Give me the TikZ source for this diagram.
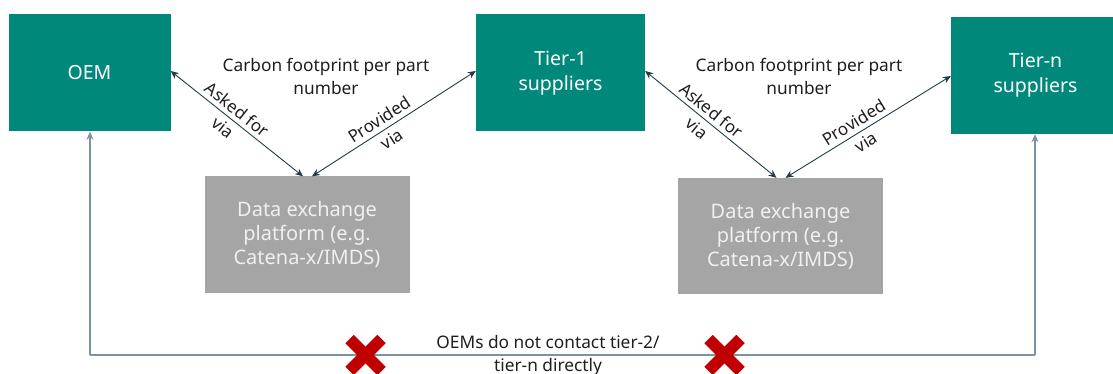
\documentclass[tikz,border=0pt]{standalone}
\usepackage{fontspec}
\setmainfont{Noto Sans}
\usetikzlibrary{arrows.meta}
\definecolor{tealbox}{RGB}{0,137,123}
\definecolor{greybox}{RGB}{165,165,165}
\definecolor{darkline}{RGB}{35,60,72}
\definecolor{bottomline}{RGB}{125,148,160}
\definecolor{crossred}{RGB}{192,0,0}
\definecolor{txt}{RGB}{30,30,30}
\tikzset{
  party/.style={fill=tealbox, text=white, inner sep=0pt, minimum width=162pt,
    minimum height=117pt, align=center, font=\fontsize{19.5}{25}\selectfont},
  platform/.style={fill=greybox, text=white!94!black, inner sep=0pt, minimum width=205pt,
    minimum height=116pt, align=center, font=\fontsize{20}{24}\selectfont},
  flow/.style={draw=darkline, line width=0.9pt, {Stealth[length=8pt,width=7pt]}-{Stealth[length=8pt,width=7pt]}},
  via/.style={sloped, align=center, text=txt, font=\fontsize{17}{23}\selectfont},
  caption/.style={align=center, text=txt, font=\fontsize{17.3}{23}\selectfont},
  direct/.style={draw=bottomline, line width=1.1pt, -{Stealth[length=8pt,width=7pt]}},
  cross/.style={draw=crossred, line width=12pt, line cap=butt}
}
\begin{document}
\begin{tikzpicture}[x=1pt, y=-1pt]
\useasboundingbox (0,0) rectangle (1113,374);

% parties in the supply chain
\node[party] (oem) at (89.5,73) {OEM};
\node[party, minimum width=169pt] (t1) at (560.5,73) {Tier-1\\suppliers};
\node[party, minimum width=169pt] (tn) at (1035.5,75.5) {Tier-n\\suppliers};

% data exchange platforms
\node[platform] (p1) at (307,234.5) {Data exchange\\platform (e.g.\\Catena-x/IMDS)};
\node[platform] (p2) at (780.5,236) {Data exchange\\platform (e.g.\\Catena-x/IMDS)};

% what is exchanged
\node[caption] (c1) at (326,76) {Carbon footprint per part\\number};
\node[caption] (c2) at (799,76) {Carbon footprint per part\\number};

% request and delivery through the platforms
\draw[flow] ([yshift=2pt]oem.east) -- node[via, pos=0.45] {Asked for\\via} ([xshift=-4pt]p1.north);
\draw[flow] ([xshift=5pt]p1.north) -- node[via, pos=0.45] {Provided\\via} ([yshift=2pt]t1.west);
\draw[flow] ([yshift=2pt]t1.east) -- node[via, pos=0.45] {Asked for\\via} ([xshift=-4pt]p2.north);
\draw[flow] ([xshift=5pt]p2.north) -- node[via, pos=0.45] {Provided\\via} ([yshift=-0.5pt]tn.west);

% no direct contact between OEM and tier-n
\coordinate (bl) at (90,355);
\coordinate (br) at (1035,355);
\draw[direct] (bl) -- (oem.south -| bl);
\draw[direct] (br) -- (tn.south -| br);
\draw[draw=bottomline, line width=1.1pt] (bl) -- (br);
\node[caption] (nc) at (548,355) {OEMs do not contact tier-2/\\tier-n directly};

\foreach \cx/\nm in {365.5/x1, 724.5/x2} {
  \coordinate (\nm) at (\cx,355);
  \draw[cross] ([shift={(-16pt,-16pt)}]\nm) -- ([shift={(16pt,16pt)}]\nm);
  \draw[cross] ([shift={(-16pt,16pt)}]\nm) -- ([shift={(16pt,-16pt)}]\nm);
}
\end{tikzpicture}
\end{document}
